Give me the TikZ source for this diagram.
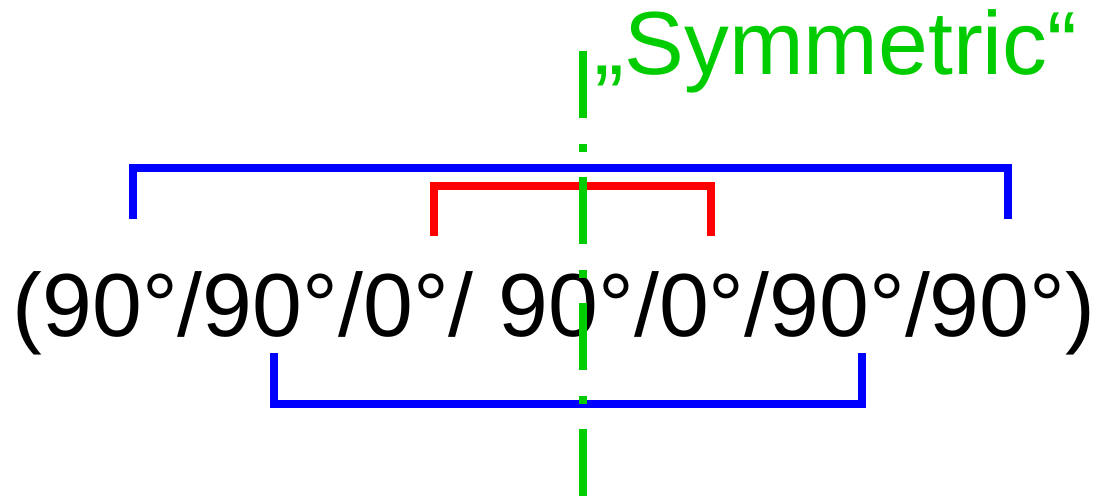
\documentclass[tikz,border=0pt]{standalone}
\usepackage{fontspec}
\setmainfont{Liberation Sans}
\definecolor{symgreen}{HTML}{00CC00}
\definecolor{plyblue}{HTML}{0000FF}
\definecolor{plyred}{HTML}{FF0000}

\begin{document}
\begin{tikzpicture}[x=0.02cm,y=-0.02cm,
    bracket/.style={line width=0.16cm,line join=miter},
    bigtext/.style={anchor=base,inner sep=0pt,font=\fontsize{51}{55}\selectfont}]
        \useasboundingbox (0,0) rectangle (1102,496);

        \node[bigtext] (layup) at (554,337) {(90°/90°/0°/ 90°/0°/90°/90°)};
        \node[bigtext,text=symgreen] (symlabel) at (836,75) {„Symmetric“};

        % brackets over and under the lay-up
        \draw[bracket,plyblue] (132.5,219) -- (132.5,168.5) -- (1007.5,168.5) -- (1007.5,219);
        \draw[bracket,plyred] (434,236) -- (434,186) -- (711,186) -- (711,236);
        \draw[bracket,plyblue] (274,353) -- (274,404) -- (862,404) -- (862,353);

        % axis of symmetry
        \coordinate (axistop) at (583,51);
        \coordinate (axisbot) at (583,496);
        \draw[line width=0.16cm,symgreen,
          dash pattern=on 1.34cm off 0.52cm on 0.16cm off 0.5cm] (axistop) -- (axisbot);
      \end{tikzpicture}
\end{document}
